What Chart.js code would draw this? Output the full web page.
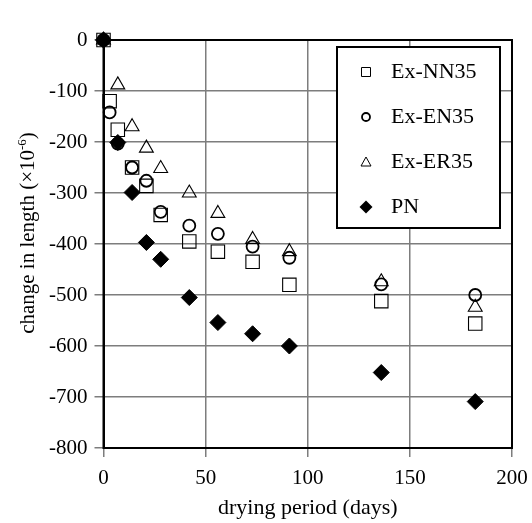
<!DOCTYPE html>
<html><head><meta charset="utf-8">
<script src="https://cdn.jsdelivr.net/npm/chart.js@4/dist/chart.umd.min.js"></script>
<style>html,body{margin:0;padding:0;background:#fff}#wrap{width:532px;height:523px}</style>
</head><body><div id="wrap"><canvas id="c" width="532" height="523"></canvas></div>
<script>
// ---- data ----
const days   = [0, 3, 7, 14, 21, 28, 42, 56, 73, 91, 136, 182];
const exNN35 = [0, -120, -176, -250, -286, -343, -395, -415, -435, -480, -512, -556];
const exEN35 = [0, -142, -203, -250, -276, -337, -364, -380, -405, -427, -479, -500];
const exER35 = [0, null, -88, -170, -212, -252, -300, -340, -391, -415, -474, -524];
const pn     = [0, null, -201, -299, -397, -430, -505, -554, -576, -600, -652, -709];
const seriesNames = ['Ex-NN35', 'Ex-EN35', 'Ex-ER35', 'PN'];
const xTicks = [0, 50, 100, 150, 200];
const yTicks = [0, -100, -200, -300, -400, -500, -600, -700, -800];
const xTitle = 'drying period (days)';
const yTitleMain = 'change in length (\u00D710';
const yTitleSup = '-6';
const yTitleEnd = ')';

const FONT = '"Liberation Serif", "Times New Roman", serif';
const GRID = '#7d7d7d';

function pts(vals) {
  const out = [];
  days.forEach((d, i) => { if (vals[i] !== null) out.push({x: d, y: vals[i]}); });
  return out;
}

const styles = [
  {pointStyle: 'rect', radius: 9.5, borderWidth: 1.1, fill: 'rgba(0,0,0,0)'},
  {pointStyle: 'circle', radius: 6, borderWidth: 1.8, fill: 'rgba(0,0,0,0)'},
  {pointStyle: 'triangle', radius: 8, borderWidth: 1.1, fill: 'rgba(0,0,0,0)'},
  {pointStyle: 'rectRot', radius: 8, borderWidth: 1, fill: '#000'}
];
const seriesVals = [exNN35, exEN35, exER35, pn];

const datasets = seriesVals.map((v, i) => ({
  label: seriesNames[i],
  data: pts(v),
  pointStyle: styles[i].pointStyle,
  pointRadius: styles[i].radius,
  pointBorderWidth: styles[i].borderWidth,
  pointBorderColor: '#000',
  pointBackgroundColor: styles[i].fill,
  showLine: false,
  clip: false,
  order: 3 - i
}));

// legend marker drawing (custom legend box)
function drawMarker(ctx, kind, x, y) {
  ctx.save();
  ctx.strokeStyle = '#000';
  ctx.fillStyle = '#000';
  ctx.beginPath();
  if (kind === 'rect') {
    ctx.lineWidth = 1;
    ctx.rect(x - 4.5, y - 4.5, 9, 9);
    ctx.stroke();
  } else if (kind === 'circle') {
    ctx.lineWidth = 1.8;
    ctx.arc(x, y, 4, 0, Math.PI * 2);
    ctx.stroke();
  } else if (kind === 'triangle') {
    ctx.lineWidth = 1;
    ctx.moveTo(x, y - 5);
    ctx.lineTo(x + 5, y + 4);
    ctx.lineTo(x - 5, y + 4);
    ctx.closePath();
    ctx.stroke();
  } else {
    ctx.moveTo(x, y - 6.5);
    ctx.lineTo(x + 6.5, y);
    ctx.lineTo(x, y + 6.5);
    ctx.lineTo(x - 6.5, y);
    ctx.closePath();
    ctx.fill();
  }
  ctx.restore();
}

const framePlugin = {
  id: 'frame',
  beforeDatasetsDraw(chart) {
    const {ctx, chartArea: a} = chart;
    ctx.save();
    ctx.strokeStyle = '#000';
    ctx.lineWidth = 2;
    ctx.strokeRect(a.left, a.top, a.right - a.left, a.bottom - a.top);
    ctx.restore();
  },
  afterDatasetsDraw(chart) {
    const ctx = chart.ctx;
    // legend box
    ctx.save();
    ctx.fillStyle = '#fff';
    ctx.fillRect(337, 47, 163, 181);
    ctx.strokeStyle = '#000';
    ctx.lineWidth = 2;
    ctx.strokeRect(337, 47, 163, 181);
    ctx.font = '22px ' + FONT;
    ctx.fillStyle = '#000';
    ctx.textBaseline = 'alphabetic';
    ctx.textAlign = 'left';
    seriesNames.forEach((n, i) => {
      const yy = 72 + 45 * i;
      drawMarker(ctx, styles[i].pointStyle, 366, yy);
      ctx.fillText(n, 391, yy + 5.5);
    });
    ctx.restore();
    // y axis title with superscript
    ctx.save();
    ctx.fillStyle = '#000';
    const mainFont = '21px ' + FONT, supFont = '13px ' + FONT;
    ctx.font = mainFont;
    const w1 = ctx.measureText(yTitleMain).width;
    const w3 = ctx.measureText(yTitleEnd).width;
    ctx.font = supFont;
    const w2 = ctx.measureText(yTitleSup).width;
    const total = w1 + w2 + w3;
    ctx.translate(34, 233);
    ctx.rotate(-Math.PI / 2);
    ctx.textBaseline = 'alphabetic';
    ctx.textAlign = 'left';
    let sx = -total / 2;
    ctx.font = mainFont;
    ctx.fillText(yTitleMain, sx, 0);
    sx += w1;
    ctx.font = supFont;
    ctx.fillText(yTitleSup, sx, -8);
    sx += w2;
    ctx.font = mainFont;
    ctx.fillText(yTitleEnd, sx, 0);
    ctx.restore();
  }
};

new Chart(document.getElementById('c'), {
  type: 'scatter',
  data: {datasets},
  options: {
    responsive: false,
    animation: false,
    events: [],
    layout: {padding: {top: 40, right: 20, left: 0, bottom: 0}},
    plugins: {legend: {display: false}, tooltip: {enabled: false}},
    scales: {
      x: {
        type: 'linear', min: 0, max: 200,
        afterBuildTicks(s) { s.ticks = xTicks.map(v => ({value: v})); },
        afterFit(s) { s.height = 75; s.paddingLeft = 0; s.paddingRight = 0; },
        ticks: {color: '#000', font: {family: FONT, size: 21}, padding: 9, maxRotation: 0, minRotation: 0},
        grid: {color: GRID, lineWidth: 1.5, tickLength: 9, tickColor: GRID},
        border: {display: true, color: '#000', width: 2},
        title: {display: true, text: xTitle, color: '#000', font: {family: FONT, size: 22}, padding: {top: 0, bottom: 2}}
      },
      y: {
        type: 'linear', min: -800, max: 0,
        afterBuildTicks(s) { s.ticks = yTicks.map(v => ({value: v})); },
        afterFit(s) { s.width = 103.5; s.paddingTop = 0; s.paddingBottom = 0; },
        ticks: {color: '#000', font: {family: FONT, size: 21}, padding: 7},
        grid: {color: GRID, lineWidth: 1.5, tickLength: 9, tickColor: GRID},
        border: {display: true, color: '#000', width: 2}
      }
    }
  },
  plugins: [framePlugin]
});
</script></body></html>
